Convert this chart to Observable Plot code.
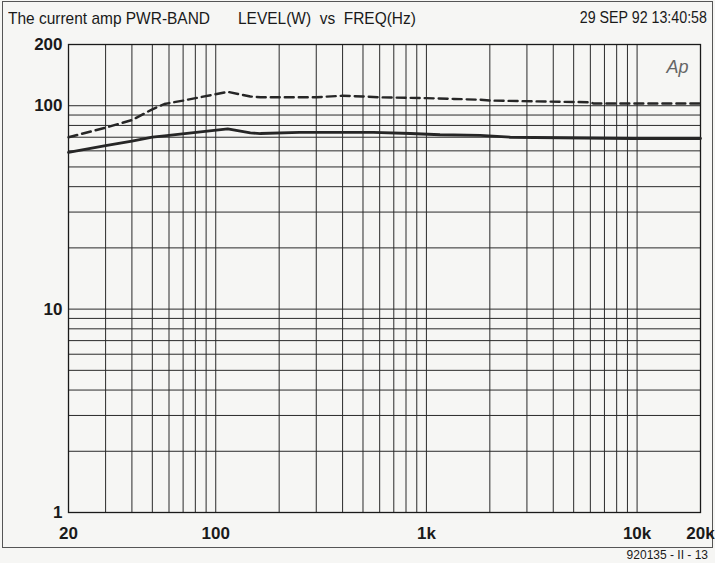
<!DOCTYPE html>
<html>
<head>
<meta charset="utf-8">
<script src="https://cdn.jsdelivr.net/npm/d3@7"></script>
<script src="https://cdn.jsdelivr.net/npm/@observablehq/plot@0.6"></script>
<style>
  html, body { margin: 0; padding: 0; background: #f6f6f4; }
  #wrap { position: relative; width: 715px; height: 563px; overflow: hidden;
          font-family: "Liberation Sans", Arial, sans-serif; color: #1a1a1a; }
  #border { position: absolute; left: 2px; top: 1px; width: 709px; height: 545px; border: 1.3px solid #555; }
  .t { position: absolute; white-space: pre; font-size: 17px; line-height: 1; }
  #chart { position: absolute; left: 0; top: 0; }
</style>
</head>
<body>
<div id="wrap">
  <div id="border"></div>
  <div id="chart"></div>
  <div class="t" id="title1" style="left:8px; top:10px; transform: scaleX(0.91); transform-origin: left center;">The current amp PWR-BAND</div>
  <div class="t" id="title2" style="left:238px; top:10px; transform: scaleX(0.91); transform-origin: left center;">LEVEL(W)  vs  FREQ(Hz)</div>
  <div class="t" id="date" style="right:8px; top:10px; font-size:16px; transform: scaleX(0.89); transform-origin: right center;">29 SEP 92 13:40:58</div>
  <div class="t" id="cap" style="right:7px; top:549px; font-size:12px;">920135 - II - 13</div>
</div>
<script>
// Dashed series (upper curve), frequency in Hz and level in W
const dashedFreq = [20, 30, 40, 50, 57, 70, 114, 146, 163, 300, 400, 500, 600, 1000, 1350, 1800, 2000, 6000, 6200, 20000];
const dashedLevel = [70, 78, 85, 96, 102, 106, 117, 111, 110, 110, 112, 111, 110, 109, 108, 107, 106, 104, 102.6, 102.6];

// Solid series (lower curve)
const solidFreq = [20, 30, 40, 50, 57, 114, 146, 163, 250, 560, 840, 1160, 1800, 2500, 9600, 20000];
const solidLevel = [59, 63.6, 67, 70, 71, 77, 73.5, 73, 74, 74, 73, 72, 71.5, 70, 69, 69];

// Grid lines and tick labels
const xGrid = [20, 30, 40, 50, 60, 70, 80, 90, 100, 200, 300, 400, 500, 600, 700, 800, 900,
               1000, 2000, 3000, 4000, 5000, 6000, 7000, 8000, 9000, 10000, 20000];
const yGrid = [1, 2, 3, 4, 5, 6, 7, 8, 9, 10, 20, 30, 40, 50, 60, 70, 80, 90, 100, 200];
const xTicks = [20, 100, 1000, 10000, 20000];
const xTickLabels = ["20", "100", "1k", "10k", "20k"];
const yTicks = [1, 10, 100, 200];
const yTickLabels = ["1", "10", "100", "200"];

const dashed = dashedFreq.map((f, i) => ({f, v: dashedLevel[i]}));
const solid = solidFreq.map((f, i) => ({f, v: solidLevel[i]}));

const chart = Plot.plot({
  width: 715,
  height: 563,
  marginLeft: 68,
  marginRight: 15,
  marginTop: 44,
  marginBottom: 51,
  x: {type: "log", domain: [20, 20000]},
  y: {type: "log", domain: [1, 200]},
  style: {background: "transparent", fontFamily: "'Liberation Sans', Arial, sans-serif", fontSize: "17px", color: "#1a1a1a"},
  marks: [
    Plot.ruleX(xGrid, {stroke: "#2a2a2a", strokeWidth: 1}),
    Plot.ruleY(yGrid, {stroke: "#2a2a2a", strokeWidth: 1}),
    Plot.frame({stroke: "#1a1a1a", strokeWidth: 1.3}),
    Plot.line(solid, {x: "f", y: "v", stroke: "#262626", strokeWidth: 2.8, curve: "linear"}),
    Plot.line(dashed, {x: "f", y: "v", stroke: "#262626", strokeWidth: 2.4, strokeDasharray: "9,5", curve: "linear"}),
    Plot.axisX({ticks: xTicks, tickFormat: d => xTickLabels[xTicks.indexOf(d)], tickSize: 0, tickPadding: 14, fontWeight: "bold", label: null}),
    Plot.axisY({ticks: yTicks, tickFormat: d => yTickLabels[yTicks.indexOf(d)], tickSize: 0, tickPadding: 6, fontWeight: "bold", label: null}),
    Plot.text(["Ap"], {frameAnchor: "top-right", dx: -12, dy: 16, fontStyle: "italic", fontSize: 18, fill: "#666", fontWeight: "normal"})
  ]
});
document.getElementById("chart").appendChild(chart);
</script>
</body>
</html>
